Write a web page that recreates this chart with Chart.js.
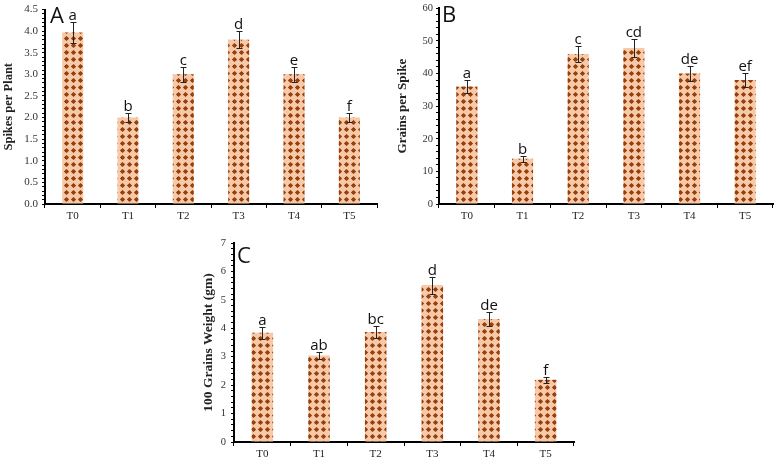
<!DOCTYPE html>
<html>
<head>
<meta charset="utf-8">
<script src="https://cdn.jsdelivr.net/npm/chart.js@4.4.1/dist/chart.umd.min.js"></script>
<style>
  body { margin: 0; background: #fff; }
  #wrap { position: relative; width: 776px; height: 463px; background: #fff; }
  canvas { position: absolute; }
</style>
</head>
<body>
<div id="wrap">
  <canvas id="chartA" width="390" height="230" style="left:0;top:0"></canvas>
  <canvas id="chartB" width="386" height="230" style="left:390px;top:0"></canvas>
  <canvas id="chartC" width="420" height="233" style="left:180px;top:230px"></canvas>
</div>
<script>
const categories = ['T0', 'T1', 'T2', 'T3', 'T4', 'T5'];

// A: spikes per plant
const spikesPerPlant = [3.97, 2.0, 3.0, 3.8, 3.0, 2.0];
const spikesErr = [0.24, 0.11, 0.17, 0.2, 0.17, 0.11];
const spikesLetters = ['a', 'b', 'c', 'd', 'e', 'f'];

// B: grains per spike
const grainsPerSpike = [36, 13.9, 46, 47.8, 40, 38];
const grainsErr = [2, 0.9, 2.5, 2.8, 2.2, 2.1];
const grainsLetters = ['a', 'b', 'c', 'cd', 'de', 'ef'];

// C: 100 grains weight
const grainWeight = [3.84, 3.04, 3.87, 5.52, 4.33, 2.19];
const weightErr = [0.2, 0.13, 0.21, 0.3, 0.24, 0.1];
const weightLetters = ['a', 'ab', 'bc', 'd', 'de', 'f'];

const peach = '#f8c9a8';
const brown = '#94420f';

function dotPattern(ctx) {
    const tile = document.createElement('canvas');
    tile.width = 7; tile.height = 7;
    const c = tile.getContext('2d');
    c.fillStyle = peach;
    c.fillRect(0, 0, 7, 7);
    c.fillStyle = brown;
    c.beginPath();
    c.moveTo(3.5, 0.9); c.lineTo(6.1, 3.5); c.lineTo(3.5, 6.1); c.lineTo(0.9, 3.5);
    c.closePath();
    c.fill();
    c.beginPath();
    c.arc(3.5, 3.5, 1.8, 0, Math.PI * 2);
    c.fill();
    return ctx.createPattern(tile, 'repeat');
}

function annotate(errors, letters, panel, px, py) {
    return {
        id: 'annotate',
        afterDatasetsDraw(chart) {
            const ctx = chart.ctx;
            const y = chart.scales.y;
            const vals = chart.data.datasets[0].data;
            ctx.save();
            ctx.strokeStyle = '#222';
            ctx.lineWidth = 1;
            ctx.fillStyle = '#111';
            ctx.font = '15px "Open Sans"';
            ctx.textAlign = 'center';
            ctx.textBaseline = 'alphabetic';
            chart.getDatasetMeta(0).data.forEach((bar, i) => {
                const x = Math.round(bar.x) + 0.5;
                const top = Math.round(y.getPixelForValue(vals[i] + errors[i])) + 0.5;
                const bot = Math.round(y.getPixelForValue(vals[i] - errors[i])) + 0.5;
                ctx.beginPath();
                ctx.moveTo(x, bot); ctx.lineTo(x, top);
                ctx.moveTo(x - 3, top); ctx.lineTo(x + 3, top);
                ctx.moveTo(x - 3, bot); ctx.lineTo(x + 3, bot);
                ctx.stroke();
                ctx.fillText(letters[i], bar.x, top - 3);
            });
            ctx.font = '22px "Open Sans"';
            ctx.textAlign = 'left';
            ctx.fillText(panel, px, py);
            ctx.restore();
        }
    };
}

function makeChart(id, p) {
    const ctx = document.getElementById(id).getContext('2d');
    return new Chart(ctx, {
        type: 'bar',
        data: {
            labels: categories,
            datasets: [{
                data: p.values,
                backgroundColor: dotPattern(ctx),
                borderWidth: 0,
                barPercentage: 0.38,
                categoryPercentage: 1
            }]
        },
        plugins: [annotate(p.errors, p.letters, p.panel, p.px, p.py)],
        options: {
            responsive: false,
            animation: false,
            layout: { padding: { left: 0, top: p.top, right: p.right, bottom: 0 } },
            plugins: { legend: { display: false }, tooltip: { enabled: false } },
            scales: {
                x: {
                    afterFit: s => { s.height = p.xh; },
                    border: { display: true, color: '#000', width: 2 },
                    grid: { drawOnChartArea: false, tickLength: 4, tickColor: '#000', tickWidth: 1 },
                    ticks: { color: '#222', padding: 2, font: { family: 'Liberation Serif', size: 11 } }
                },
                y: {
                    min: 0,
                    max: p.max,
                    afterFit: s => { s.width = p.yw; },
                    border: { display: true, color: '#000', width: 2 },
                    grid: { drawOnChartArea: false, tickLength: 3, tickColor: '#000', tickWidth: 1 },
                    ticks: {
                        stepSize: p.step,
                        autoSkip: false,
                        color: '#333',
                        padding: p.tickPad,
                        font: { family: 'Liberation Serif', size: p.tickSize, lineHeight: 1 },
                        callback: v => {
                            const r = v / p.major;
                            return Math.abs(r - Math.round(r)) < 1e-6 ? v.toFixed(p.decimals) : '';
                        }
                    },
                    title: {
                        display: true,
                        text: p.title,
                        color: '#222',
                        padding: { top: p.titlePad, bottom: 0 },
                        font: { family: 'Liberation Serif', weight: 'bold', size: p.titleSize }
                    }
                }
            }
        }
    });
}

makeChart('chartA', {
    values: spikesPerPlant, errors: spikesErr, letters: spikesLetters,
    panel: 'A', px: 50, py: 23,
    title: 'Spikes per Plant', titleSize: 12.5, titlePad: 1,
    max: 4.5, step: 0.1, major: 0.5, decimals: 1, tickSize: 11, tickPad: 4,
    top: 5, right: 13, yw: 45, xh: 26
});

makeChart('chartB', {
    values: grainsPerSpike, errors: grainsErr, letters: grainsLetters,
    panel: 'B', px: 52, py: 22,
    title: 'Grains per Spike', titleSize: 13, titlePad: 5,
    max: 60, step: 2, major: 10, decimals: 0, tickSize: 10.5, tickPad: 3,
    top: 5, right: 3, yw: 49, xh: 26
});

makeChart('chartC', {
    values: grainWeight, errors: weightErr, letters: weightLetters,
    panel: 'C', px: 57, py: 33,
    title: '100 Grains Weight (gm)', titleSize: 13.5, titlePad: 20,
    max: 7, step: 0.2, major: 1, decimals: 0, tickSize: 10.5, tickPad: 5,
    top: 13, right: 26, yw: 54, xh: 21
});
</script>
</body>
</html>
